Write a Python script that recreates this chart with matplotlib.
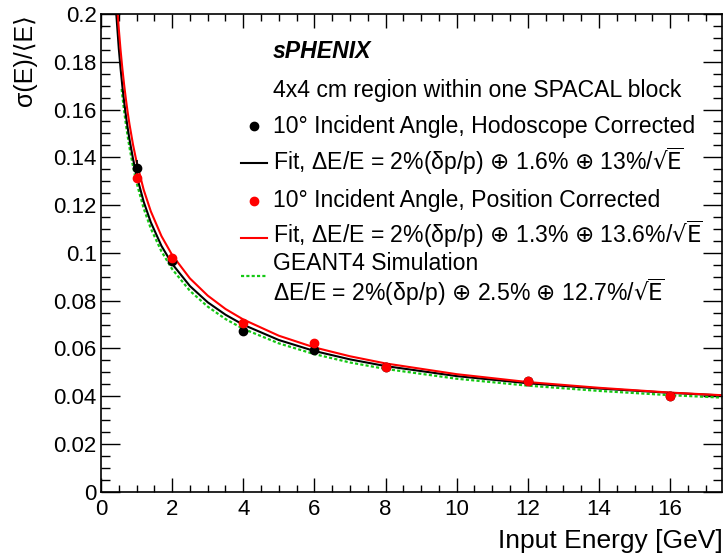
import matplotlib
matplotlib.use("Agg")
import matplotlib.pyplot as plt
from matplotlib.lines import Line2D
from matplotlib.ticker import MultipleLocator

plt.rcParams['font.family'] = ['Liberation Sans', 'DejaVu Sans']
plt.rcParams['mathtext.fontset'] = 'dejavusans'

# measured points
energy = [1, 2, 4, 6, 8, 12, 16]
hodo_res = [0.1354, 0.0966, 0.0673, 0.0593, 0.0523, 0.0463, 0.0402]
hodo_err = [0.0035, 0.0010, 0.0008, 0.0007, 0.0006, 0.0005, 0.0004]
pos_res = [0.1315, 0.0977, 0.0708, 0.0621, 0.0524, 0.0465, 0.0401]
pos_err = [0.0020, 0.0008, 0.0007, 0.0006, 0.0005, 0.0004, 0.0004]

# fit / simulation curves
hodo_fit_e = [0.43, 0.5, 0.55, 0.6, 0.65, 0.7, 0.75, 0.8, 0.9, 1.0, 1.2, 1.4, 1.7,
              2, 2.5, 3, 3.5, 4, 5, 6, 7, 8, 10, 12, 14, 16, 17.45]
hodo_fit_y = [0.2000, 0.1856, 0.1772, 0.1698, 0.1633, 0.1575, 0.1523, 0.1476, 0.1394,
              0.1325, 0.1214, 0.1128, 0.1029, 0.0954, 0.0861, 0.0793, 0.0741, 0.0699,
              0.0635, 0.0589, 0.0554, 0.0526, 0.0484, 0.0454, 0.0432, 0.0414, 0.0403]
pos_fit_e = [0.47, 0.5, 0.55, 0.6, 0.65, 0.7, 0.75, 0.8, 0.9, 1.0, 1.2, 1.4, 1.7,
             2, 2.5, 3, 3.5, 4, 5, 6, 7, 8, 10, 12, 14, 16, 17.45]
pos_fit_y = [0.1998, 0.1938, 0.1849, 0.1772, 0.1704, 0.1643, 0.1588, 0.1539, 0.1453,
             0.1381, 0.1264, 0.1174, 0.1070, 0.0991, 0.0893, 0.0821, 0.0765, 0.0721,
             0.0653, 0.0604, 0.0567, 0.0537, 0.0492, 0.0459, 0.0435, 0.0415, 0.0404]
sim_e = [0.58, 0.6, 0.65, 0.7, 0.75, 0.8, 0.9, 1.0, 1.2, 1.4, 1.7,
         2, 2.5, 3, 3.5, 4, 5, 6, 7, 8, 10, 12, 14, 16, 17.45]
sim_y = [0.1686, 0.1659, 0.1595, 0.1538, 0.1488, 0.1442, 0.1362, 0.1294, 0.1186,
         0.1102, 0.1006, 0.0932, 0.0841, 0.0775, 0.0723, 0.0682, 0.0621, 0.0576,
         0.0541, 0.0514, 0.0473, 0.0444, 0.0422, 0.0404, 0.0394]

header = "sPHENIX"
text_lines = [
    "4x4 cm region within one SPACAL block",
    "10° Incident Angle, Hodoscope Corrected",
    r"Fit, ΔE/E = 2%(δp/p) $\oplus$ 1.6% $\oplus$ 13%/$√\overline{\mathrm{E}}$",
    "10° Incident Angle, Position Corrected",
    r"Fit, ΔE/E = 2%(δp/p) $\oplus$ 1.3% $\oplus$ 13.6%/$√\overline{\mathrm{E}}$",
    "GEANT4 Simulation",
    r"ΔE/E = 2%(δp/p) $\oplus$ 2.5% $\oplus$ 12.7%/$√\overline{\mathrm{E}}$",
]
# baseline of each text row, in pixels from the top of the figure
text_base_px = [96.7, 133.3, 170, 206.7, 243.3, 270, 301]

green = '#14c814'
W, H = 725, 554
ax_left, ax_right, ax_top, ax_bot = 101, 721.7, 14, 491.7

fig = plt.figure(figsize=(W / 100, H / 100), dpi=100)
ax = fig.add_axes([ax_left / W, 1 - ax_bot / H, (ax_right - ax_left) / W, (ax_bot - ax_top) / H])

ax.plot(sim_e, sim_y, color=green, lw=1.6, dashes=(1.4, 1.0))
ax.plot(hodo_fit_e, hodo_fit_y, color='black', lw=1.5)
ax.plot(pos_fit_e, pos_fit_y, color='red', lw=1.5)
ax.errorbar(energy, hodo_res, yerr=hodo_err, fmt='o', color='black', ms=6, elinewidth=1.2, capsize=0)
ax.errorbar(energy, pos_res, yerr=pos_err, fmt='o', color='red', ms=6, elinewidth=1.2, capsize=0)

ax.set_xlim(0, 17.45)
ax.set_ylim(0, 0.2)
ax.xaxis.set_major_locator(MultipleLocator(2))
ax.xaxis.set_minor_locator(MultipleLocator(0.5))
ax.yaxis.set_major_locator(MultipleLocator(0.02))
ax.yaxis.set_minor_locator(MultipleLocator(0.005))
ax.yaxis.set_major_formatter(matplotlib.ticker.FuncFormatter(lambda v, p: f"{v:g}"))
ax.tick_params(which='both', direction='in', top=True, right=True, width=1, labelsize=16)
ax.tick_params(axis='x', which='major', length=10, pad=5)
ax.tick_params(axis='x', which='minor', length=5)
ax.tick_params(axis='y', which='major', length=13.5, pad=3)
ax.tick_params(axis='y', which='minor', length=6.8)
for s in ax.spines.values():
    s.set_linewidth(1.2)

fig.text(25 / W, 1 - 14 / H, "σ(E)/⟨E⟩", rotation=90, ha='center', va='top', fontsize=18)
fig.text(723 / W, 1 - 541 / H, "Input Energy [GeV]", ha='right', va='center', fontsize=19)

# legend text
def yfrac(px):
    return (ax_bot - px) / (ax_bot - ax_top)

tx = (273 - ax_left) / (ax_right - ax_left)
ax.text(tx, yfrac(58.3), header, transform=ax.transAxes, fontsize=16.6,
        fontweight='bold', fontstyle='italic', va='baseline')
for line, base in zip(text_lines, text_base_px):
    ax.text(tx, yfrac(base), line, transform=ax.transAxes, fontsize=16.6, va='baseline')

# legend keys
handles = [
    Line2D([], [], marker='o', color='black', ms=6, linestyle='none'),
    Line2D([], [], color='black', lw=1.5),
    Line2D([], [], marker='o', color='red', ms=6, linestyle='none'),
    Line2D([], [], color='red', lw=1.5),
    Line2D([], [], color=green, lw=1.6, dashes=(1.4, 1.0)),
]
leg = ax.legend(handles, [""] * len(handles), loc='upper left',
                bbox_to_anchor=((241 - ax_left) / (ax_right - ax_left), yfrac(117.5)),
                frameon=False, fontsize=16, borderpad=0, borderaxespad=0,
                handlelength=1.17, handletextpad=0.0, labelspacing=0.74)

fig.savefig("out.png", dpi=100)
